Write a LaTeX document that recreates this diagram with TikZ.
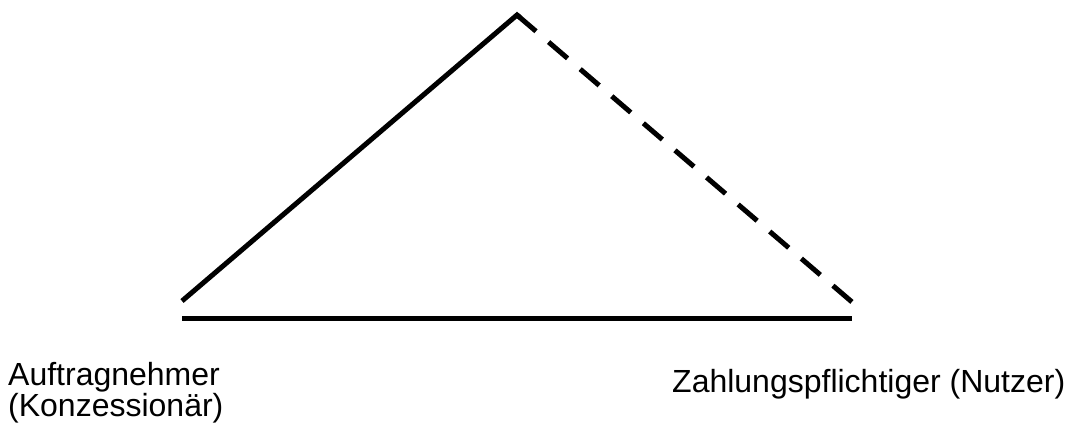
\documentclass[tikz,border=0pt]{standalone}
\usepackage{fontspec}
\setmainfont{Liberation Sans}
\usetikzlibrary{calc}
\begin{document}
\begin{tikzpicture}[x=1pt,y=-1pt,
  edge/.style={line width=5pt,line cap=butt,line join=miter},
  dashedge/.style={edge,dash pattern=on 25pt off 16.6pt},
  lbl/.style={inner sep=0pt,font=\fontsize{32}{29}\selectfont,align=left}]
\useasboundingbox (0,0) rectangle (1067,432);
\coordinate (L) at (182,301);
\coordinate (A) at (517,15);
\coordinate (R) at (852,302);
\coordinate (BL) at (182,318);
\coordinate (BR) at (852,318);
\draw[edge] (L) -- (A) -- ($(A)!4pt!(R)$);
\draw[dashedge] (A) -- (R);
\draw[edge] (BL) -- (BR);
\node[lbl,anchor=base west] (an) at (8,416) {Auftragnehmer\\(Konzessionär)};
\node[lbl,anchor=base west] (zp) at (672,392) {Zahlungspflichtiger (Nutzer)};
\end{tikzpicture}
\end{document}
